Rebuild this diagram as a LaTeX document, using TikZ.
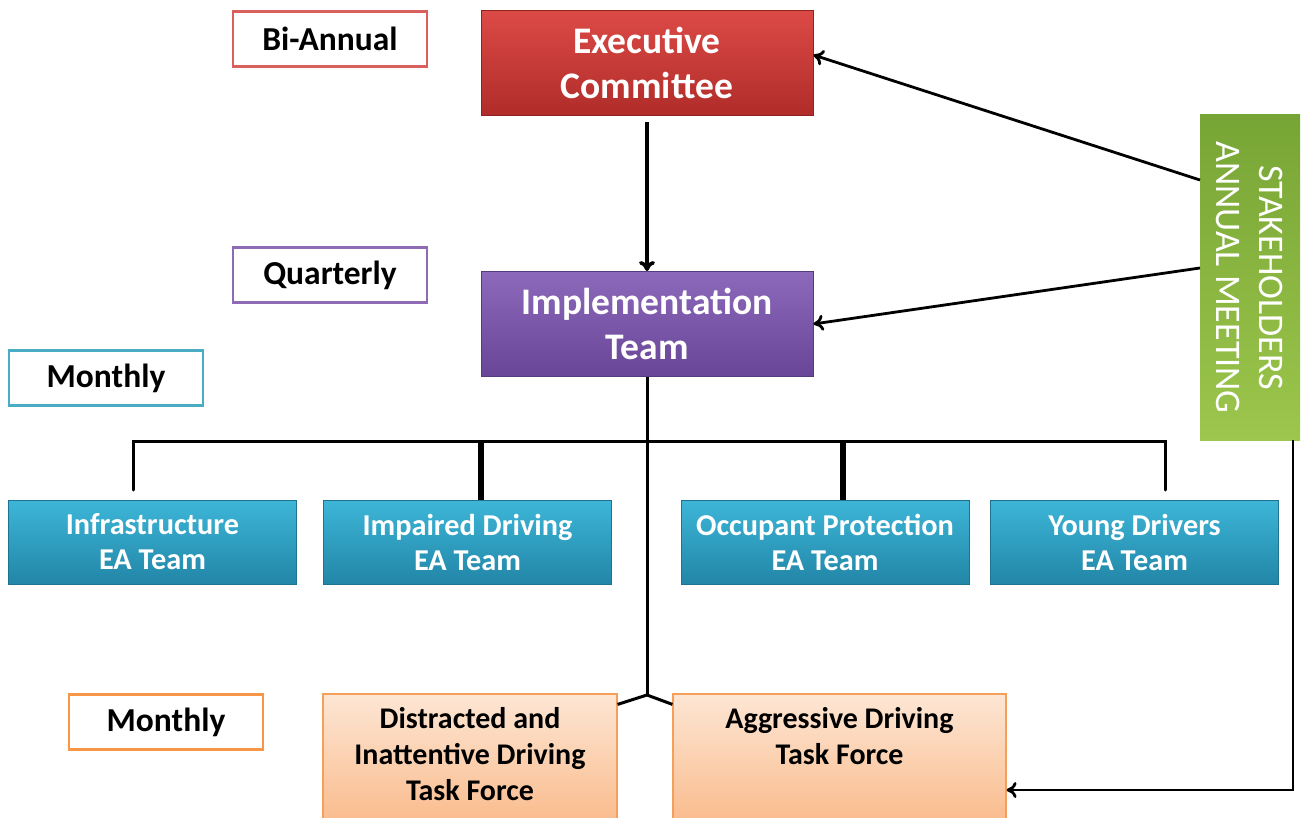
\documentclass[tikz,border=0pt]{standalone}
\usepackage{fontspec}
\setmainfont{Carlito}
\usetikzlibrary{arrows.meta}
\definecolor{exTop}{HTML}{DC4A46}
\definecolor{exBot}{HTML}{B02C29}
\definecolor{exBorder}{HTML}{8E2422}
\definecolor{imTop}{HTML}{8C69BA}
\definecolor{imBot}{HTML}{684596}
\definecolor{imBorder}{HTML}{563A7E}
\definecolor{eaTop}{HTML}{3DB6D8}
\definecolor{eaBot}{HTML}{2286A7}
\definecolor{eaBorder}{HTML}{1E7390}
\definecolor{tfTop}{HTML}{FDE6D4}
\definecolor{tfBot}{HTML}{F9B887}
\definecolor{tfBorder}{HTML}{F4A05A}
\definecolor{stLeft}{HTML}{77A535}
\definecolor{stRight}{HTML}{9CC64C}
\definecolor{lblRed}{HTML}{D9605C}
\definecolor{lblPurple}{HTML}{8E6BB5}
\definecolor{lblCyan}{HTML}{4BACC6}
\definecolor{lblOrange}{HTML}{F79646}
\begin{document}
\begin{tikzpicture}[x=1pt,y=-1pt,
  freqbox/.style={draw, line width=2.4pt, fill=white, inner sep=0pt,
    minimum width=194pt, minimum height=55pt,
    font=\fontsize{33.5}{38}\selectfont\bfseries},
  bigbox/.style={draw, line width=1pt, inner sep=0pt, align=center,
    minimum width=332pt, minimum height=105pt, text=white,
    font=\fontsize{37.5}{45}\selectfont\bfseries},
  eabox/.style={draw=eaBorder, line width=1pt, top color=eaTop, bottom color=eaBot,
    inner sep=0pt, align=center, minimum width=288pt, minimum height=84pt,
    text=white, font=\fontsize{30.3}{35}\selectfont\bfseries},
  tfbox/.style={draw=tfBorder, line width=1.2pt, top color=tfTop, bottom color=tfBot,
    inner sep=0pt},
  tftext/.style={anchor=north, inner sep=0pt, align=center,
    font=\fontsize{30}{36}\selectfont\bfseries},
  conn/.style={line width=3pt},
  drop/.style={line width=6pt},
  arr/.style={line width=2.8pt, -{To[length=10pt,width=16pt]}}
]
\useasboundingbox (0,0) rectangle (1302,818);

% frequency labels
\node[freqbox, draw=lblRed] (biannual) at (330,39) {Bi-Annual};
\node[freqbox, draw=lblPurple] (quarterly) at (330,275) {Quarterly};
\node[freqbox, draw=lblCyan] (monthlyA) at (106,378) {Monthly};
\node[freqbox, draw=lblOrange] (monthlyB) at (166,722) {Monthly};

% main boxes
\node[bigbox, draw=exBorder, top color=exTop, bottom color=exBot] (exec) at (647,63) {Executive\\Committee};
\node[bigbox, draw=imBorder, top color=imTop, bottom color=imBot] (impl) at (647,324) {Implementation\\Team};

% EA teams
\node[eabox] (infra) at (152.5,542) {Infrastructure\\EA Team};
\node[eabox] (impaired) at (467.5,542) {Impaired Driving\\EA Team};
\node[eabox] (occupant) at (825,542) {Occupant Protection\\EA Team};
\node[eabox] (young) at (1134.5,542) {Young Drivers\\EA Team};

% task forces
\node[tfbox, minimum width=294pt, minimum height=140pt] (distbox) at (470,764) {};
\node[tfbox, minimum width=333pt, minimum height=140pt] (aggrbox) at (839.5,764) {};
\node[tftext] (dist) at ([yshift=-14pt]distbox.north) {Distracted and\\Inattentive Driving\\Task Force};
\node[tftext] (aggr) at ([yshift=-14pt]aggrbox.north) {Aggressive Driving\\Task Force};

% stakeholders
\node[rotate=-90, left color=stLeft, right color=stRight, shading angle=0,
  inner sep=0pt, minimum width=325pt, minimum height=100pt, align=center,
  text=white, font=\fontsize{36}{43}\selectfont] (stake) at (1250,277.5)
  {STAKEHOLDERS\\ANNUAL MEETING};

% connectors
\coordinate (bus) at (647,441);
\coordinate (fork) at (647,695);
\coordinate (dInfra) at (133,490);
\coordinate (dImp) at (481,500);
\coordinate (dOcc) at (843,500);
\coordinate (dYoung) at (1165,490);

\draw[arr, line width=3.6pt] (exec.south) ++(0,6) -- (impl.north);
\draw[conn] (impl.south) -- (fork);
\draw[conn, line cap=round] (dInfra) -- (dInfra |- bus) -- (dYoung |- bus) -- (dYoung);
\draw[drop] (dImp |- bus) -- (dImp);
\draw[drop] (dOcc |- bus) -- (dOcc);
\draw[conn] ([yshift=-11pt]distbox.north east) -- (fork) -- ([yshift=-11pt]aggrbox.north west);

\coordinate (s1) at (1200,180);
\coordinate (s2) at (1200,268);
\coordinate (s3) at (1293,440);
\draw[arr] (s1) -- ([yshift=8pt]exec.east);
\draw[arr] (s2) -- (impl.east);
\draw[arr] (s3) -- (1293,790) -- ([yshift=-26pt]aggrbox.east);
\end{tikzpicture}
\end{document}
